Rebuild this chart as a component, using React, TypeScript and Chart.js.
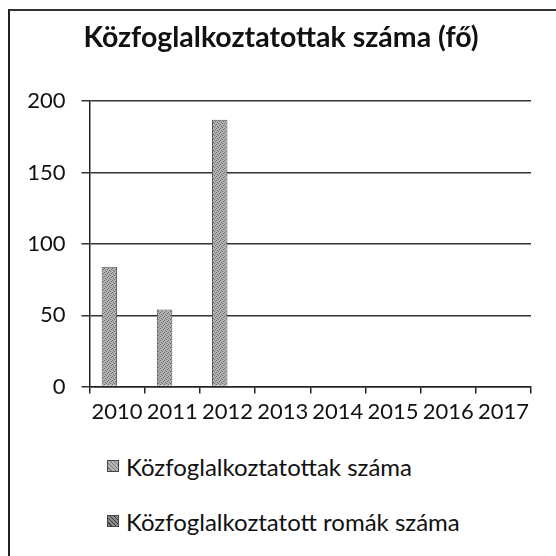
import React, { useEffect, useRef } from "react";
import { Chart, registerables } from "chart.js";

Chart.register(...registerables);

const TITLE = "Közfoglalkoztatottak száma (fő)";
const YEARS = ["2010", "2011", "2012", "2013", "2014", "2015", "2016", "2017"];
const SERIES1_NAME = "Közfoglalkoztatottak száma";
const SERIES1 = [84, 54, 187, null, null, null, null, null];
const SERIES2_NAME = "Közfoglalkoztatott romák száma";
const SERIES2 = [null, null, null, null, null, null, null, null];
const Y_TICKS = [0, 50, 100, 150, 200];

const FONT = "Lato, 'Open Sans', sans-serif";

function makePattern(base: string, dot: string) {
  const c = document.createElement("canvas");
  c.width = 4;
  c.height = 4;
  const g = c.getContext("2d")!;
  g.fillStyle = base;
  g.fillRect(0, 0, 4, 4);
  g.fillStyle = dot;
  g.fillRect(0, 0, 1, 1);
  g.fillRect(2, 1, 1, 1);
  g.fillRect(1, 2, 1, 1);
  g.fillRect(3, 3, 1, 1);
  return g.createPattern(c, "repeat");
}

export default function App() {
  const ref = useRef<HTMLCanvasElement>(null);
  useEffect(() => {
    if (!ref.current) return;
    const p1 = makePattern("#b4b4b4", "#6a6a6a");
    const p2 = makePattern("#8a8a8a", "#3a3a3a");
    const chart = new Chart(ref.current, {
      type: "bar",
      data: {
        labels: YEARS,
        datasets: [
          {
            label: SERIES1_NAME,
            data: SERIES1 as any,
            backgroundColor: p1 as any,
            borderColor: "#555",
            borderWidth: 1,
            categoryPercentage: 0.56,
            barPercentage: 1,
          },
          {
            label: SERIES2_NAME,
            data: SERIES2 as any,
            backgroundColor: p2 as any,
            borderColor: "#333",
            borderWidth: 1,
            categoryPercentage: 0.56,
            barPercentage: 1,
          },
        ],
      },
      options: {
        responsive: false,
        animation: false,
        layout: { padding: { left: 0, right: 4, top: 0, bottom: 9 } },
        plugins: {
          legend: { display: false },
          tooltip: { enabled: false },
          title: {
            display: true,
            text: TITLE,
            color: "#111",
            font: { family: FONT, size: 28.5, weight: "bold" },
            padding: { top: 10, bottom: 46 },
          },
        },
        scales: {
          x: {
            offset: true,
            grid: {
              offset: true,
              drawOnChartArea: false,
              drawTicks: true,
              tickLength: 7,
              color: "#222",
              lineWidth: 1.5,
            },
            border: { display: true, color: "#222", width: 1.5 },
            ticks: {
              autoSkip: false,
              maxRotation: 0,
              minRotation: 0,
              padding: 5,
              color: "#111",
              font: { family: FONT, size: 22 },
            },
          },
          y: {
            min: 0,
            max: 200,
            afterBuildTicks: (s: any) => {
              s.ticks = Y_TICKS.map((v) => ({ value: v }));
            },
            afterFit: (s: any) => {
              s.width = 79.5;
            },
            grid: {
              color: "#333",
              lineWidth: 1.5,
              drawTicks: true,
              tickLength: 8,
            },
            border: { display: true, color: "#222", width: 1.5 },
            ticks: {
              padding: 16,
              color: "#111",
              font: { family: FONT, size: 22 },
            },
          },
          spacer: {
            position: "right",
            min: 0,
            max: 200,
            grid: { display: false },
            border: { display: false },
            ticks: { display: false },
            afterFit: (s: any) => {
              s.width = 21;
            },
          },
        },
      },
    });
    return () => chart.destroy();
  }, []);

  const legendRow = (top: number, name: string, swatch: string) => (
    <div
      style={{
        position: "absolute",
        left: 97,
        top,
        height: 28,
        display: "flex",
        alignItems: "center",
        fontFamily: FONT,
        fontSize: 24,
        color: "#111",
        whiteSpace: "nowrap",
      }}
    >
      <span
        style={{
          display: "inline-block",
          width: 12,
          height: 12,
          background: swatch,
          border: "1px solid #444",
          marginRight: 7,
          boxSizing: "border-box",
        }}
      />
      <span>{name}</span>
    </div>
  );

  return (
    <div
      style={{
        position: "absolute",
        left: 8,
        top: 9,
        width: 546,
        height: 545,
        borderLeft: "2px solid #222",
        borderTop: "2px solid #333",
        overflow: "hidden",
        background: "#fff",
      }}
    >
      <canvas
        ref={ref}
        width={546}
        height={428}
        style={{ position: "absolute", left: 0, top: 0, width: 546, height: 428 }}
      />
      {legendRow(441, SERIES1_NAME, "repeating-linear-gradient(45deg,#b4b4b4 0 2px,#7a7a7a 2px 3px)")}
      {legendRow(496, SERIES2_NAME, "repeating-linear-gradient(45deg,#8a8a8a 0 2px,#3a3a3a 2px 3px)")}
    </div>
  );
}
